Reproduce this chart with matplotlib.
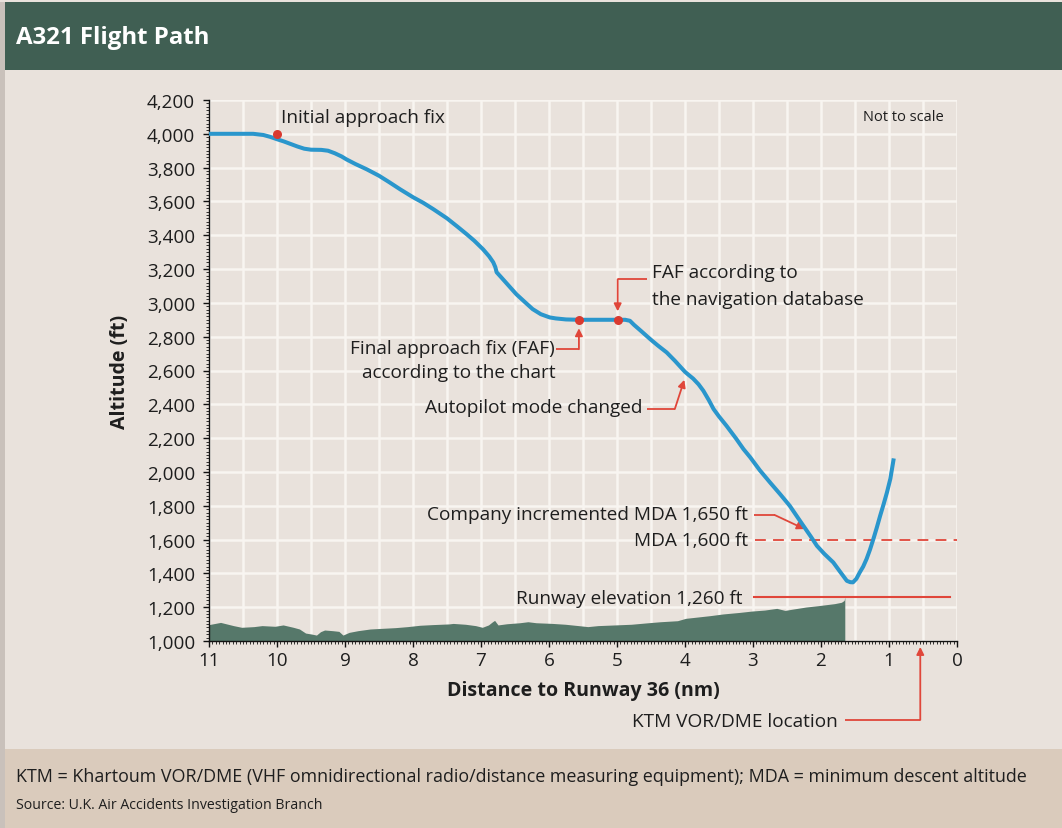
import matplotlib
matplotlib.use("Agg")
import matplotlib.pyplot as plt
import numpy as np
from matplotlib.patches import Rectangle
from matplotlib.ticker import MultipleLocator, FuncFormatter

plt.rcParams['font.family'] = ['Open Sans', 'DejaVu Sans']

# ---------------- data ----------------
path_nm = [11.0, 10.6, 10.35, 10.2, 10.1, 10.0, 9.9, 9.8, 9.7, 9.6, 9.5, 9.35, 9.25,
           9.15, 9.05, 8.98, 8.85, 8.68, 8.5, 8.35, 8.19, 8.0, 7.85, 7.70, 7.5, 7.35,
           7.21, 7.1, 6.97, 6.88, 6.82, 6.79, 6.77, 6.7, 6.6, 6.48, 6.35, 6.24, 6.12,
           5.99, 5.9, 5.75, 5.56, 5.3, 4.99, 4.88, 4.81, 4.75, 4.65, 4.51, 4.4, 4.27,
           4.15, 4.05, 4.0, 3.95, 3.88, 3.8, 3.73, 3.65, 3.58, 3.5, 3.39, 3.25, 3.14,
           3.04, 2.9, 2.75, 2.6, 2.46, 2.35, 2.26, 2.15, 2.06, 1.95, 1.82, 1.72, 1.62,
           1.57, 1.53, 1.48, 1.43, 1.38, 1.33, 1.28, 1.23, 1.18, 1.13, 1.08, 1.03, 0.98, 0.93]
path_ft = [4000, 4000, 4000, 3993, 3982, 3968, 3955, 3940, 3925, 3912, 3906, 3905, 3900,
           3885, 3866, 3849, 3822, 3790, 3752, 3714, 3672, 3625, 3592, 3554, 3500, 3452,
           3406, 3368, 3317, 3275, 3240, 3212, 3181, 3150, 3105, 3051, 3003, 2963, 2933,
           2914, 2908, 2902, 2900, 2900, 2900, 2900, 2894, 2870, 2835, 2785, 2748, 2707,
           2658, 2614, 2592, 2575, 2552, 2518, 2480, 2425, 2372, 2328, 2273, 2198, 2135,
           2086, 2010, 1938, 1868, 1800, 1735, 1682, 1618, 1563, 1515, 1465, 1410, 1356,
           1348, 1347, 1368, 1406, 1440, 1485, 1540, 1603, 1670, 1741, 1808, 1879, 1960, 2080]

terrain_nm = [11.0, 10.83, 10.64, 10.52, 10.34, 10.22, 10.03, 9.91, 9.76, 9.67, 9.58,
              9.49, 9.42, 9.36, 9.30, 9.18, 9.09, 9.03, 8.94, 8.81, 8.63, 8.45, 8.26,
              8.08, 7.90, 7.71, 7.47, 7.41, 7.23, 7.08, 6.98, 6.89, 6.83, 6.80, 6.75,
              6.62, 6.43, 6.31, 6.19, 5.95, 5.76, 5.52, 5.43, 5.28, 5.03, 4.79, 4.54,
              4.36, 4.11, 3.99, 3.81, 3.63, 3.44, 3.20, 3.02, 2.83, 2.65, 2.53, 2.41,
              2.22, 2.04, 1.92, 1.80, 1.70, 1.66, 1.65]
terrain_ft = [1097, 1110, 1091, 1081, 1085, 1091, 1087, 1095, 1081, 1071, 1047,
              1041, 1035, 1055, 1065, 1061, 1057, 1035, 1051, 1061, 1071, 1075, 1079,
              1085, 1093, 1097, 1101, 1104, 1099, 1091, 1081, 1095, 1114, 1122, 1095,
              1102, 1108, 1114, 1108, 1104, 1099, 1089, 1085, 1091, 1095, 1099, 1108,
              1114, 1120, 1134, 1142, 1150, 1160, 1169, 1177, 1183, 1193, 1181, 1189,
              1201, 1209, 1215, 1221, 1229, 1240, 1260]

fix_nm = [10.0, 5.56, 4.99]
fix_ft = [4000, 2900, 2900]

mda_ft = 1600
runway_elev_ft = 1260
ktm_nm = 0.54

x_ticks = list(range(0, 12))
y_ticks = list(range(1000, 4201, 200))

# ---------------- colours ----------------
BG = '#E9E2DC'
TITLE_BG = '#405F53'
FOOT_BG = '#DACBBC'
BLUE = '#2A96CC'
RED = '#E0463A'
DOT = '#D93A30'
TERRAIN = '#56786A'
GRID = '#F8F5F1'
TXT = '#1E1E1E'

W, H = 1062, 829
fig = plt.figure(figsize=(W / 100, H / 100), dpi=100, facecolor=BG)

# frame pieces
fig.patches.append(Rectangle((5 / W, 1 - 71 / H), 1, 68 / H, transform=fig.transFigure,
                             facecolor=TITLE_BG, edgecolor='none', zorder=0))
fig.patches.append(Rectangle((0, 0), 1, 1 - 750 / H, transform=fig.transFigure,
                             facecolor=FOOT_BG, edgecolor='none', zorder=0))
fig.patches.append(Rectangle((0, 0), 5 / W, 1 - 3 / H, transform=fig.transFigure,
                             facecolor='#C9C1BB', edgecolor='none', zorder=0))

fig.text(16 / W, 1 - 38 / H, 'A321 Flight Path', color='white', fontsize=17.3,
         fontweight='bold', va='center', ha='left')
fig.text(16 / W, 1 - 777 / H,
         'KTM = Khartoum VOR/DME (VHF omnidirectional radio/distance measuring equipment); MDA = minimum descent altitude',
         color=TXT, fontsize=12.85, va='center', ha='left')
fig.text(16 / W, 1 - 806 / H, 'Source: U.K. Air Accidents Investigation Branch',
         color=TXT, fontsize=10.2, va='center', ha='left')

ax = fig.add_axes([209 / W, 1 - 642 / H, (957 - 209) / W, (642 - 101) / H])
ax.set_facecolor(BG)
ax.set_xlim(11, 0)
ax.set_ylim(1000, 4200)

# grid
for gx in np.arange(0, 11.01, 0.5):
    ax.axvline(gx, color=GRID, lw=1.8, zorder=0.5)
for gy in np.arange(1000, 4201, 200):
    ax.axhline(gy, color=GRID, lw=1.8, zorder=0.5)

# terrain
ax.fill_between(terrain_nm, 1000, terrain_ft, color=TERRAIN, lw=0, zorder=2)

# flight path
ax.plot(path_nm, path_ft, color=BLUE, lw=2.9, zorder=4, solid_capstyle='butt',
        solid_joinstyle='round')
ax.plot(fix_nm, fix_ft, 'o', color=DOT, ms=6.5, mec='none', zorder=5)

# reference lines
ax.plot([2.97, 0.0], [mda_ft, mda_ft], color=RED, lw=1.3, dashes=(6, 4), zorder=3)
ax.plot([2.99, 0.10], [runway_elev_ft, runway_elev_ft], color=RED, lw=1.5, zorder=3)

FS = 13.7

def leader(pts, tip, clip=True):
    xs = [p[0] for p in pts]
    ys = [p[1] for p in pts]
    ax.plot(xs, ys, color=RED, lw=1.3, zorder=3, clip_on=clip, solid_capstyle='butt')
    ax.annotate('', xy=tip, xytext=pts[-1], annotation_clip=False,
                arrowprops=dict(arrowstyle='-|>', color=RED, lw=1.3,
                                mutation_scale=11, shrinkA=0, shrinkB=0), zorder=3)

ax.text(9.94, 4098, 'Initial approach fix', fontsize=FS, color=TXT, ha='left', va='center')
ax.text(0.19, 4104, 'Not to scale', fontsize=10.5, color=TXT, ha='right', va='center')

ax.text(4.49, 3181, 'FAF according to', fontsize=FS, color=TXT, ha='left', va='center')
ax.text(4.49, 3022, 'the navigation database', fontsize=FS, color=TXT, ha='left', va='center')
leader([(4.56, 3140), (4.99, 3140)], (4.99, 2950))

ax.text(5.92, 2732, 'Final approach fix (FAF)', fontsize=FS, color=TXT, ha='right', va='center')
ax.text(5.90, 2590, 'according to the chart', fontsize=FS, color=TXT, ha='right', va='center')
leader([(5.90, 2726), (5.56, 2726)], (5.56, 2850))

ax.text(4.62, 2383, 'Autopilot mode changed', fontsize=FS, color=TXT, ha='right', va='center')
leader([(4.56, 2372), (4.15, 2372)], (4.01, 2545))

ax.text(3.07, 1751, 'Company incremented MDA 1,650 ft', fontsize=FS, color=TXT, ha='right', va='center')
leader([(2.99, 1745), (2.68, 1745)], (2.24, 1662))

ax.text(3.07, 1597, 'MDA 1,600 ft', fontsize=FS, color=TXT, ha='right', va='center')
ax.text(3.15, 1254, 'Runway elevation 1,260 ft', fontsize=FS, color=TXT, ha='right', va='center')

ax.text(1.75, 527, 'KTM VOR/DME location', fontsize=FS, color=TXT, ha='right', va='center',
        clip_on=False)
leader([(1.65, 533), (ktm_nm, 533)], (ktm_nm, 965), clip=False)

# axes styling
for s in ['top', 'right']:
    ax.spines[s].set_visible(False)
for s in ['left', 'bottom']:
    ax.spines[s].set_color('#111111')
    ax.spines[s].set_linewidth(1.0)
ax.set_xticks(x_ticks)
ax.set_yticks(y_ticks)
ax.xaxis.set_minor_locator(MultipleLocator(0.05))
ax.yaxis.set_minor_locator(MultipleLocator(20))
ax.yaxis.set_major_formatter(FuncFormatter(lambda v, p: f'{int(v):,}'))
ax.tick_params(which='major', length=4, width=1, color='#111111', labelsize=13.6,
               labelcolor=TXT)
ax.tick_params(which='minor', length=2, width=0.6, color='#111111')
ax.tick_params(axis='y', which='major', pad=6)
ax.tick_params(axis='x', which='major', pad=3)

ax.set_xlabel('Distance to Runway 36 (nm)', fontsize=14.1, fontweight='bold', color=TXT,
              labelpad=8)
ax.set_ylabel('Altitude (ft)', fontsize=14.1, fontweight='bold', color=TXT, labelpad=12)

fig.savefig('out.png', dpi=100, facecolor=BG)
